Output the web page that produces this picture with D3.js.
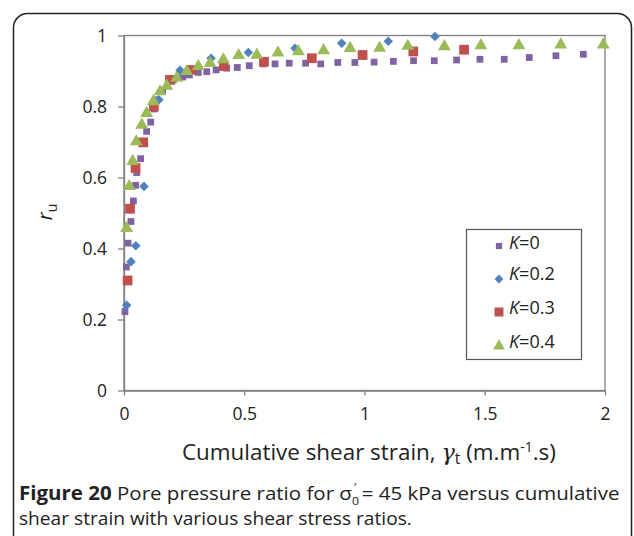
<!DOCTYPE html>
<html>
<head>
<meta charset="utf-8">
<script src="https://cdn.jsdelivr.net/npm/d3@7"></script>
<style>
  body { margin: 0; background: #fff; }
  svg text { font-family: "Open Sans", sans-serif; fill: #222; }
</style>
</head>
<body>
<svg id="chart" width="634" height="536"></svg>
<script>
const W = 634, H = 536;
const M = { left: 124, top: 35.5, right: 29, bottom: 145.5 };

const xTicks = [0, 0.5, 1, 1.5, 2];
const yTicks = [0, 0.2, 0.4, 0.6, 0.8, 1];

// K = 0
const k0x = [0.004, 0.01, 0.017, 0.029, 0.039, 0.048, 0.053, 0.069, 0.094, 0.111, 0.126, 0.136, 0.161, 0.205, 0.244, 0.272, 0.309, 0.344, 0.383, 0.427, 0.471, 0.521, 0.579, 0.628, 0.687, 0.755, 0.818, 0.889, 0.96, 1.04, 1.12, 1.204, 1.29, 1.383, 1.48, 1.581, 1.685, 1.796, 1.91];
const k0y = [0.222, 0.348, 0.415, 0.476, 0.534, 0.578, 0.614, 0.653, 0.73, 0.756, 0.793, 0.819, 0.845, 0.875, 0.883, 0.889, 0.896, 0.898, 0.903, 0.908, 0.91, 0.915, 0.92, 0.92, 0.922, 0.922, 0.92, 0.924, 0.924, 0.925, 0.927, 0.929, 0.929, 0.931, 0.933, 0.933, 0.938, 0.943, 0.947];
// K = 0.2
const k2x = [0.011, 0.029, 0.049, 0.083, 0.145, 0.233, 0.362, 0.517, 0.711, 0.905, 1.099, 1.293];
const k2y = [0.24, 0.363, 0.408, 0.575, 0.819, 0.902, 0.936, 0.952, 0.964, 0.978, 0.984, 0.997];
// K = 0.3
const k3x = [0.015, 0.025, 0.048, 0.08, 0.124, 0.191, 0.281, 0.415, 0.582, 0.781, 0.992, 1.203, 1.414];
const k3y = [0.31, 0.512, 0.627, 0.699, 0.8, 0.875, 0.903, 0.914, 0.926, 0.936, 0.945, 0.955, 0.96];
// K = 0.4
const k4x = [0.011, 0.022, 0.036, 0.051, 0.074, 0.094, 0.122, 0.15, 0.178, 0.219, 0.261, 0.309, 0.358, 0.413, 0.477, 0.552, 0.64, 0.725, 0.83, 0.94, 1.063, 1.18, 1.332, 1.484, 1.642, 1.816, 1.993];
const k4y = [0.457, 0.575, 0.646, 0.701, 0.748, 0.781, 0.814, 0.842, 0.858, 0.88, 0.899, 0.913, 0.922, 0.932, 0.944, 0.945, 0.951, 0.955, 0.958, 0.964, 0.965, 0.97, 0.969, 0.972, 0.972, 0.974, 0.974];

const seriesNames = ["0", "0.2", "0.3", "0.4"];

const series = [
  { name: seriesNames[0], xs: k0x, ys: k0y, symbol: d3.symbolSquare, size: 46, color: "#8064A2" },
  { name: seriesNames[1], xs: k2x, ys: k2y, symbol: d3.symbolDiamond2, size: 58, color: "#4F81BD" },
  { name: seriesNames[2], xs: k3x, ys: k3y, symbol: d3.symbolSquare, size: 95, color: "#C0504D" },
  { name: seriesNames[3], xs: k4x, ys: k4y, symbol: d3.symbolTriangle, size: 72, color: "#9BBB59" },
];

const svg = d3.select("#chart");

// shrink or grow a text so it spans the given width
function fitWidth(sel, target) {
  const len = sel.node().getComputedTextLength();
  const fs = parseFloat(sel.attr("font-size"));
  sel.attr("font-size", (fs * target) / len);
}

// squeeze a text sideways to the given width, keeping its height
function squeeze(sel, x0, y0, target) {
  const len = sel.node().getBBox().width;
  sel.attr("transform", `translate(${x0},${y0}) scale(${target / len},1)`);
}

// rounded frame round the whole figure
svg.append("rect")
  .attr("x", 13.5).attr("y", 13.5)
  .attr("width", 618).attr("height", 560)
  .attr("rx", 14)
  .attr("fill", "none")
  .attr("stroke", "#222")
  .attr("stroke-width", 1.5);

const x = d3.scaleLinear().domain([0, 2]).range([M.left, W - M.right]);
const y = d3.scaleLinear().domain([0, 1]).range([H - M.bottom, M.top]);

// plot box
svg.append("rect")
  .attr("x", x(0)).attr("y", y(1))
  .attr("width", x(2) - x(0)).attr("height", y(0) - y(1))
  .attr("fill", "none")
  .attr("stroke", "#7f7f7f")
  .attr("stroke-width", 1.3);

const xAxis = svg.append("g")
  .attr("transform", `translate(0,${y(0)})`)
  .call(d3.axisBottom(x).tickValues(xTicks).tickSize(5).tickSizeOuter(0).tickFormat(d3.format("")));

const yAxis = svg.append("g")
  .attr("transform", `translate(${x(0)},0)`)
  .call(d3.axisLeft(y).tickValues(yTicks).tickSize(6).tickSizeOuter(0).tickFormat(d3.format("")));

[xAxis, yAxis].forEach((g) => {
  g.select(".domain").attr("stroke", "#7f7f7f").attr("stroke-width", 1.3);
  g.selectAll(".tick line").attr("stroke", "#7f7f7f").attr("stroke-width", 1.3);
  g.selectAll(".tick text").attr("font-size", 17.5).attr("fill", "#222").attr("font-family", "Open Sans");
});
xAxis.selectAll(".tick text").attr("y", 13).attr("dy", "0.95em");
yAxis.selectAll(".tick text").attr("x", -17).attr("dy", "0.35em");

// points
series.forEach((s) => {
  svg.append("g")
    .selectAll("path")
    .data(s.xs.map((v, i) => [v, s.ys[i]]))
    .join("path")
    .attr("transform", (d) => `translate(${x(d[0])},${y(d[1])})`)
    .attr("d", d3.symbol(s.symbol, s.size))
    .attr("fill", s.color);
});

// y title
svg.append("text")
  .attr("transform", "translate(52,212) rotate(-90)")
  .attr("text-anchor", "middle")
  .attr("font-size", 20)
  .call((t) => {
    t.append("tspan").attr("font-style", "italic").text("r");
    t.append("tspan").attr("font-size", 14).attr("dy", 5).text("u");
  });

// x title
const xTitle = svg.append("text")
  .attr("x", 182).attr("y", 460)
  .attr("font-size", 20)
  .call((t) => {
    t.append("tspan").text("Cumulative shear strain, ");
    t.append("tspan").attr("font-family", "DejaVu Serif").attr("font-style", "italic").text("γ");
    t.append("tspan").attr("font-size", "0.7em").attr("dy", 4).text("t");
    t.append("tspan").attr("dy", -4).text(" (m.m");
    t.append("tspan").attr("font-size", "0.62em").attr("dy", -8).text("-1");
    t.append("tspan").attr("dy", 8).text(".s)");
  });
fitWidth(xTitle, 374);

// legend
const lg = svg.append("g");
lg.append("rect")
  .attr("x", 466.5).attr("y", 229.5)
  .attr("width", 115).attr("height", 130)
  .attr("fill", "#fff")
  .attr("stroke", "#555")
  .attr("stroke-width", 1.2);

const legendY = [243, 274, 308, 342];
const symShift = [3, 5, 4, 4];
series.forEach((s, i) => {
  const row = lg.append("g").attr("transform", `translate(499,${legendY[i]})`);
  row.append("path")
    .attr("d", d3.symbol(s.symbol, s.size * 0.85))
    .attr("transform", `translate(0,${symShift[i]})`)
    .attr("fill", s.color);
  row.append("text")
    .attr("x", 10).attr("y", 6)
    .attr("font-size", 18)
    .call((t) => {
      t.append("tspan").attr("font-style", "italic").text("K");
      t.append("tspan").text("=" + s.name);
    });
});

// caption, a condensed look made by squeezing sideways
const cap = svg.append("text")
  .attr("font-size", 19);
cap.append("tspan").attr("font-weight", "bold").text("Figure 20");
cap.append("tspan").text(" Pore pressure ratio for σ");
cap.append("tspan").attr("font-size", "0.6em").attr("dy", 5).text("0");
cap.append("tspan").attr("font-size", "0.6em").attr("dx", -5).attr("dy", -14).text("′");
cap.append("tspan").attr("dx", 5).attr("dy", 9).text("= 45 kPa versus cumulative");
squeeze(cap, 19, 500, 601);

const cap2 = svg.append("text")
  .attr("font-size", 19)
  .text("shear strain with various shear stress ratios.");
squeeze(cap2, 19, 525, 393);
</script>
</body>
</html>
